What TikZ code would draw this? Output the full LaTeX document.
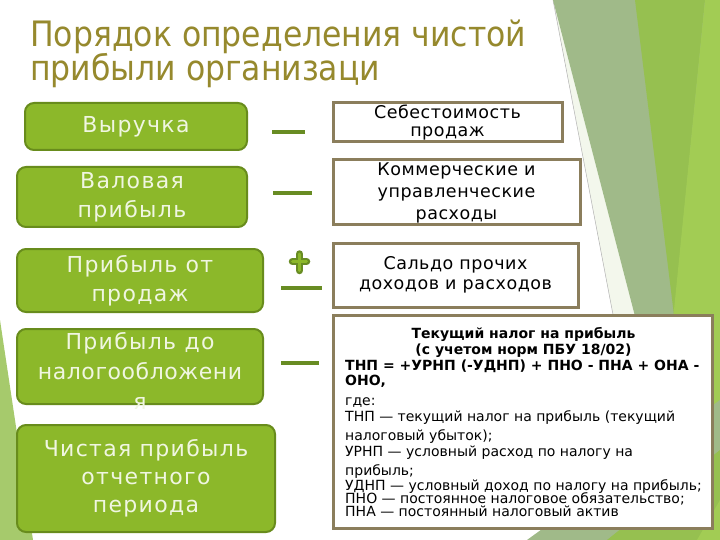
\documentclass[tikz,border=0pt]{standalone}
\usepackage{fontspec}
\setmainfont{DejaVu Sans}
\newfontfamily\titlefont{DejaVu Sans Condensed}
\newfontfamily\greenfont[LetterSpace=6]{DejaVu Sans}
\newfontfamily\greenfontn[LetterSpace=2.5]{DejaVu Sans}
\newfontfamily\costfont[LetterSpace=3]{DejaVu Sans}
\definecolor{gfill}{RGB}{140,184,42}
\definecolor{gborder}{RGB}{104,140,28}
\definecolor{gtext}{RGB}{240,246,225}
\definecolor{tborder}{RGB}{139,126,92}
\definecolor{opgreen}{RGB}{104,140,35}
\definecolor{titlecol}{RGB}{150,137,45}
\definecolor{greygreen}{RGB}{160,186,137}
\definecolor{midgreen}{RGB}{150,192,80}
\definecolor{brightgreen}{RGB}{162,204,84}
\definecolor{leftgreen}{RGB}{166,202,108}
\definecolor{palegreen}{RGB}{243,247,236}
\begin{document}
\begin{tikzpicture}[x=1pt,y=-1pt,
  greenbox/.style={draw=gborder, fill=gfill, line width=2pt, rounded corners=9pt, text=gtext, align=center, inner sep=0pt, font=\greenfont\fontsize{22}{29}\selectfont},
  costbox/.style={draw=tborder, fill=white, line width=3pt, align=center, inner sep=0pt},
  opline/.style={draw=opgreen, line width=4pt},
  txt/.style={anchor=base west, inner sep=0pt, font=\fontsize{14}{16}\selectfont},
  txtb/.style={anchor=base west, inner sep=0pt, font=\bfseries\fontsize{14}{16}\selectfont},
  titletxt/.style={anchor=base west, inner sep=0pt, text=titlecol, font=\titlefont\fontsize{35}{40}\selectfont}
]
\useasboundingbox (0,0) rectangle (720,540);
\fill[white] (0,0) rectangle (720,540);
% right decoration
\fill[palegreen] (553,0) -- (693,540) -- (656,540) -- cycle;
\draw[gray!60, line width=0.5pt] (553,0) -- (656,540);
\fill[greygreen] (553,0) -- (720,0) -- (720,540) -- (693,540) -- cycle;
\fill[midgreen] (635,0) -- (705,0) -- (674,315) -- cycle;
\fill[brightgreen] (705,0) -- (720,0) -- (720,540) -- (651,540) -- cycle;
\fill[greygreen] (527,540) -- (720,540) -- (720,400) -- cycle;
\fill[midgreen] (607,540) -- (720,540) -- (720,450) -- cycle;
\fill[brightgreen] (697,540) -- (720,540) -- (720,500) -- cycle;
% left decoration
\fill[leftgreen] (0,320) -- (33,540) -- (0,540) -- cycle;

% title
\node[titletxt] (title1) at (30,47) {Порядок определения чистой};
\node[titletxt] (title2) at (30,81) {прибыли организаци};

% left boxes
\node[greenbox, minimum width=222pt, minimum height=47pt] (b1) at (136,126.5) {Выручка};
\node[greenbox, minimum width=230pt, minimum height=60pt] (b2) at (132,197) {Валовая\\прибыль};
\node[greenbox, minimum width=246pt, minimum height=63pt] (b3) at (140,280.5) {Прибыль от\\продаж};
\node[greenbox, minimum width=246pt, minimum height=75pt] (b4) at (140,366.5) {};
\node[align=center, inner sep=0pt, text=gtext, font=\greenfont\fontsize{22}{30}\selectfont] (b4t) at (140,371) {Прибыль до\\{\greenfontn налогообложени}\\я};
\node[greenbox, minimum width=258pt, minimum height=107pt, font=\greenfont\fontsize{22}{28}\selectfont] (b5) at (146,478.5) {Чистая прибыль\\отчетного\\периода};

% operators
\draw[opline] (272,132) -- (305,132);
\draw[opline] (273,193) -- (312,193);
\draw[opgreen, line width=7.5pt, line cap=round] (299.5,254) -- (299.5,270.5) (292.5,261.5) -- (306.5,261.5);
\draw[gfill, line width=3pt, line cap=round] (299.5,254) -- (299.5,270.5) (292.5,261.5) -- (306.5,261.5);
\draw[opline] (281,288) -- (322,288);
\draw[opline] (281,363) -- (319,363);

% right boxes
\node[costbox, minimum width=229pt, minimum height=39pt, font=\costfont\fontsize{17.5}{18}\selectfont] (r1) at (447.5,122.5) {Себестоимость\\продаж};
\node[costbox, minimum width=247pt, minimum height=65pt, font=\costfont\fontsize{17.5}{22}\selectfont] (r2) at (456.5,192.5) {Коммерческие и\\управленческие\\расходы};
\node[costbox, minimum width=245pt, minimum height=64pt, font=\costfont\fontsize{17.5}{20}\selectfont] (r3) at (455.5,275) {Сальдо прочих\\доходов и расходов};
\node[costbox, minimum width=379pt, minimum height=213pt] (big) at (522.5,421.5) {};

% tax text
\node[txtb, anchor=base] (l1) at (523.5,338) {Текущий налог на прибыль};
\node[txtb, anchor=base] (l2) at (523.5,354) {(с учетом норм ПБУ 18/02)};
\node[txtb] (l3) at (345,370) {ТНП = +УРНП (-УДНП) + ПНО - ПНА + ОНА -};
\node[txtb] (l4) at (345,385) {ОНО,};
\node[txt] (l5) at (345,405) {где:};
\node[txt] (l6) at (345,421.7) {ТНП — текущий налог на прибыль (текущий};
\node[txt] (l7) at (345,440.7) {налоговый убыток);};
\node[txt] (l8) at (345,456.7) {УРНП — условный расход по налогу на};
\node[txt] (l9) at (345,475) {прибыль;};
\node[txt] (l10) at (345,490) {УДНП — условный доход по налогу на прибыль;};
\node[txt] (l11) at (345,503.3) {ПНО — постоянное налоговое обязательство;};
\node[txt] (l12) at (345,516.7) {ПНА — постоянный налоговый актив};
\end{tikzpicture}
\end{document}
